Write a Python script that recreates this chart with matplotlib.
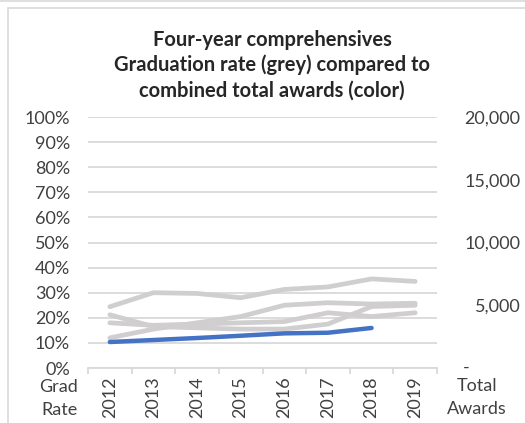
import matplotlib.pyplot as plt
import matplotlib.patches as mpatches
import matplotlib.transforms as mtransforms
import numpy as np

plt.rcParams['font.family'] = ['Lato', 'DejaVu Sans']

years = ['2012', '2013', '2014', '2015', '2016', '2017', '2018', '2019']

# graduation rates (%), one list per institution
grad_a = [24.4, 30.0, 29.7, 28.0, 31.3, 32.3, 35.5, 34.5]
grad_b = [21.2, 16.5, 16.0, 15.5, 15.5, 17.5, 24.5, 25.0]
grad_c = [18.0, 17.0, 17.5, 18.0, 18.5, 22.0, 20.5, 22.0]
grad_d = [12.0, 15.5, 18.0, 20.5, 25.0, 26.0, 25.5, 25.8]

# combined total awards (2012-2018)
awards = [2070, 2230, 2390, 2570, 2760, 2810, 3190]

grey = '#d0cece'
blue = '#4472c4'
grid_c = '#d9d9d9'
txt = '#404040'
fs = 13

fig = plt.figure(figsize=(5.25, 4.23), dpi=100)
ax = fig.add_axes([88 / 525, 1 - 368 / 423, 349 / 525, 251 / 423])
ax2 = ax.twinx()

x = np.arange(len(years))
for g in [grad_a, grad_b, grad_c, grad_d]:
    ax.plot(x, np.array(g) / 100, color=grey, lw=3.4, solid_capstyle='round',
            solid_joinstyle='round', zorder=3)
ax2.plot(x[:len(awards)], awards, color=blue, lw=3.2, solid_capstyle='round',
         solid_joinstyle='round', zorder=4)

ax.set_xlim(-0.5, 7.5)
ax.set_ylim(0, 1)
ax2.set_ylim(0, 20000)

ax.set_yticks(np.arange(0, 1.01, 0.1))
ax.set_yticklabels([f'{int(round(v * 100))}%' for v in np.arange(0, 1.01, 0.1)])
ax.yaxis.grid(True, color=grid_c, lw=1.3)
ax.set_axisbelow(True)
ax.tick_params(axis='y', length=0, pad=13, labelsize=fs, labelcolor=txt)

ax2.set_yticks([5000, 10000, 15000, 20000])
ax2.set_yticklabels(['5,000', '10,000', '15,000', '20,000'], ha='right')
ax2.tick_params(axis='y', length=0, pad=60, labelsize=fs, labelcolor=txt)
ax2.text(1.075, 0, '-', transform=mtransforms.blended_transform_factory(ax2.transAxes, ax2.transData),
         ha='left', va='center', fontsize=fs, color=txt)

ax.set_xticks(x)
ax.set_xticklabels(years, rotation=90, fontsize=fs, color=txt)
ax.set_xticks(np.arange(-0.5, 8, 1), minor=True)
ax.tick_params(axis='x', which='major', length=0, pad=6)
ax.tick_params(axis='x', which='minor', length=4, width=1.3, color=grid_c)

for a in [ax, ax2]:
    for s in ['top', 'left', 'right', 'bottom']:
        a.spines[s].set_visible(False)
ax.spines['bottom'].set_visible(True)
ax.spines['bottom'].set_color(grid_c)
ax.spines['bottom'].set_linewidth(1.3)

title_lines = ['Four-year comprehensives', 'Graduation rate (grey) compared to',
               'combined total awards (color)']
for line, yp in zip(title_lines, [40, 65, 91]):
    fig.text(272 / 525, 1 - yp / 423, line, ha='center', va='center',
             fontsize=14.5, fontweight='bold', color='#262626')

fig.text(78 / 525, 1 - 387 / 423, 'Grad', ha='right', va='center', fontsize=fs, color=txt)
fig.text(78 / 525, 1 - 410 / 423, 'Rate', ha='right', va='center', fontsize=fs, color=txt)
fig.text(477 / 525, 1 - 386 / 423, 'Total', ha='center', va='center', fontsize=fs, color=txt)
fig.text(477 / 525, 1 - 409 / 423, 'Awards', ha='center', va='center', fontsize=fs, color=txt)

# chart frame
fig.patches.append(mpatches.Rectangle((7.5 / 525, -0.1), 1.2, 1.1 - 8 / 423,
                                      transform=fig.transFigure, fill=False,
                                      edgecolor=grid_c, lw=1.2))
fig.lines.append(plt.Line2D([0, 1], [1 - 0.8 / 423] * 2, transform=fig.transFigure,
                            color=grid_c, lw=1.2))

fig.savefig('out.png', dpi=100)
